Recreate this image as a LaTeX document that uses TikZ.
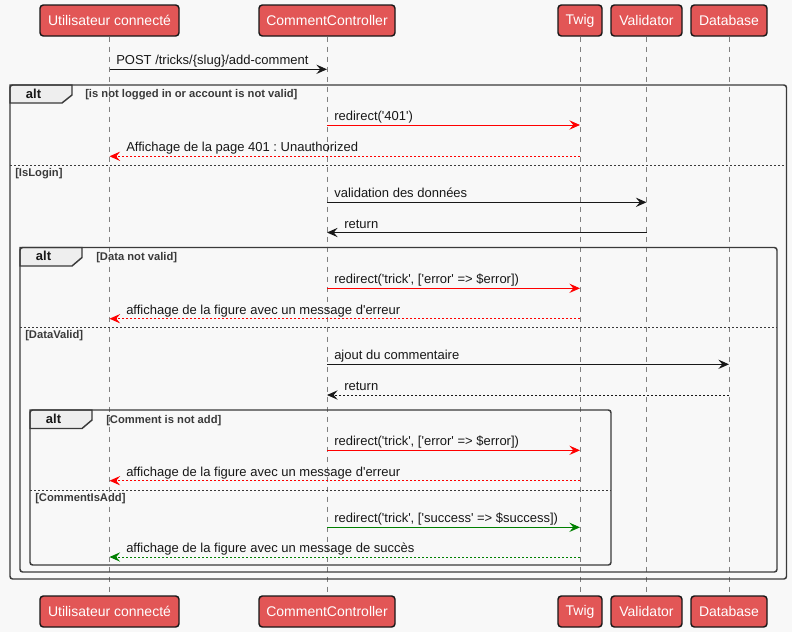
\documentclass[tikz,border=0pt]{standalone}
\usepackage{fontspec}
\setmainfont{Liberation Sans}
\usetikzlibrary{arrows.meta}
\definecolor{bg}{HTML}{F8F8F8}
\definecolor{partfill}{HTML}{E25656}
\definecolor{ink}{HTML}{181818}
\definecolor{framec}{HTML}{3A3A3A}
\definecolor{tabfill}{HTML}{EEEEEE}
\definecolor{msgred}{HTML}{FF0000}
\definecolor{msggreen}{HTML}{008000}
\definecolor{lifec}{HTML}{808080}
\newcommand{\sq}{\textquotesingle}
\frenchspacing
\begin{document}
\begin{tikzpicture}[x=0.75pt,y=-0.75pt,
  participant/.style={draw=ink, line width=1.1pt, fill=partfill, rounded corners=2.5pt,
    text=white, font=\fontsize{10.5}{12}\selectfont, inner sep=0pt, minimum height=23.25pt},
  lifeline/.style={draw=lifec, line width=0.75pt, dash pattern=on 3.75pt off 3.75pt},
  msg/.style={draw=ink, line width=0.75pt, -{Stealth[length=8pt,width=7pt,inset=3pt]}},
  reply/.style={msg, dash pattern=on 1.5pt off 1.5pt},
  msglabel/.style={anchor=base west, inner sep=0pt, text=ink, font=\fontsize{9.75}{11}\selectfont},
  frame/.style={draw=framec, line width=1.1pt, rounded corners=2pt},
  tabshape/.style={draw=framec, line width=1.1pt, fill=tabfill},
  alttext/.style={anchor=base, inner sep=0pt, text=ink, font=\bfseries\fontsize{9.75}{11}\selectfont},
  guard/.style={anchor=base west, inner sep=0pt, text=framec, font=\bfseries\fontsize{8.4}{10}\selectfont},
  separator/.style={draw=framec, line width=0.6pt, dash pattern=on 1.5pt off 1.5pt}
]
% canvas
\fill[bg] (0,0) rectangle (792,632);
\useasboundingbox (0,0) rectangle (792,632);

% participants, top row
\node[participant, minimum width=104.25pt] (u) at (109.5,20.5) {Utilisateur connecté};
\node[participant, minimum width=102pt] (c) at (327,20.5) {CommentController};
\node[participant, minimum width=33pt] (t) at (580,20.5) {Twig};
\node[participant, minimum width=53.25pt] (v) at (646.5,20.5) {Validator};
\node[participant, minimum width=57pt] (d) at (729,20.5) {Database};
% participants, bottom row
\node[participant, minimum width=104.25pt] (ub) at (109.5,611.5) {Utilisateur connecté};
\node[participant, minimum width=102pt] (cb) at (327,611.5) {CommentController};
\node[participant, minimum width=33pt] (tb) at (580,611.5) {Twig};
\node[participant, minimum width=53.25pt] (vb) at (646.5,611.5) {Validator};
\node[participant, minimum width=57pt] (db) at (729,611.5) {Database};

% lifelines
\draw[lifeline] (u.south) -- (ub.north);
\draw[lifeline] (c.south) -- (cb.north);
\draw[lifeline] (t.south) -- (tb.north);
\draw[lifeline] (v.south) -- (vb.north);
\draw[lifeline] (d.south) -- (db.north);

% request
\draw[msg] (u.south |- 0,69.3) -- (c.south |- 0,69.3);
\node[msglabel] (m1) at (116,64.8) {POST /tricks/\{slug\}/add-comment};

% outer alt fragment
\draw[tabshape] (10,85) -- (72,85) -- (72,95) -- (62,103) -- (10,103) -- cycle;
\node[alttext] (a1) at (33.5,98) {alt};
\draw[frame] (10,85) rectangle (786.5,579);
\node[guard] (g1) at (85,97) {[is not logged in or account is not valid]};

\draw[msg, draw=msgred] (c.south |- 0,125) -- (t.south |- 0,125);
\node[msglabel] (m2) at (334,120.5) {redirect(\sq401\sq)};
\draw[reply, draw=msgred] (t.south |- 0,156.3) -- (u.south |- 0,156.3);
\node[msglabel] (m3) at (126,151.8) {Affichage de la page 401 : Unauthorized};

\draw[separator] (10,165) -- (786.5,165);
\node[guard] (g2) at (15,176) {[IsLogin]};

\draw[msg] (c.south |- 0,202.3) -- (v.south |- 0,202.3);
\node[msglabel] (m4) at (334,197.8) {validation des données};
\draw[msg] (v.south |- 0,232.5) -- (c.south |- 0,232.5);
\node[msglabel] (m5) at (344,228) {return};

% data validity fragment
\draw[tabshape] (20,247.5) -- (82,247.5) -- (82,257.5) -- (72,266) -- (20,266) -- cycle;
\node[alttext] (a2) at (43.5,260.5) {alt};
\draw[frame] (20,247.5) rectangle (777,572);
\node[guard] (g3) at (96,260) {[Data not valid]};

\draw[msg, draw=msgred] (c.south |- 0,288.3) -- (t.south |- 0,288.3);
\node[msglabel] (m6) at (334,283.8) {redirect(\sq trick\sq, [\sq error\sq\ => \$error])};
\draw[reply, draw=msgred] (t.south |- 0,318.7) -- (u.south |- 0,318.7);
\node[msglabel] (m7) at (126,314.2) {affichage de la figure avec un message d\sq erreur};

\draw[separator] (20,327.3) -- (777,327.3);
\node[guard] (g4) at (25,338.5) {[DataValid]};

\draw[msg] (c.south |- 0,364.3) -- (d.south |- 0,364.3);
\node[msglabel] (m8) at (334,359.8) {ajout du commentaire};
\draw[reply] (d.south |- 0,395) -- (c.south |- 0,395);
\node[msglabel] (m9) at (344,390.5) {return};

% comment insertion fragment
\draw[tabshape] (30,410) -- (92,410) -- (92,420) -- (82,428.5) -- (30,428.5) -- cycle;
\node[alttext] (a3) at (53.5,423) {alt};
\draw[frame] (30,410) rectangle (611,565);
\node[guard] (g5) at (106,423) {[Comment is not add]};

\draw[msg, draw=msgred] (c.south |- 0,450.3) -- (t.south |- 0,450.3);
\node[msglabel] (m10) at (334,445.8) {redirect(\sq trick\sq, [\sq error\sq\ => \$error])};
\draw[reply, draw=msgred] (t.south |- 0,480.7) -- (u.south |- 0,480.7);
\node[msglabel] (m11) at (126,476.2) {affichage de la figure avec un message d\sq erreur};

\draw[separator] (30,490) -- (611,490);
\node[guard] (g6) at (35,501) {[CommentIsAdd]};

\draw[msg, draw=msggreen] (c.south |- 0,527.3) -- (t.south |- 0,527.3);
\node[msglabel] (m12) at (334,522.8) {redirect(\sq trick\sq, [\sq success\sq\ => \$success])};
\draw[reply, draw=msggreen] (t.south |- 0,557) -- (u.south |- 0,557);
\node[msglabel] (m13) at (126,552.5) {affichage de la figure avec un message de succès};
\end{tikzpicture}
\end{document}
